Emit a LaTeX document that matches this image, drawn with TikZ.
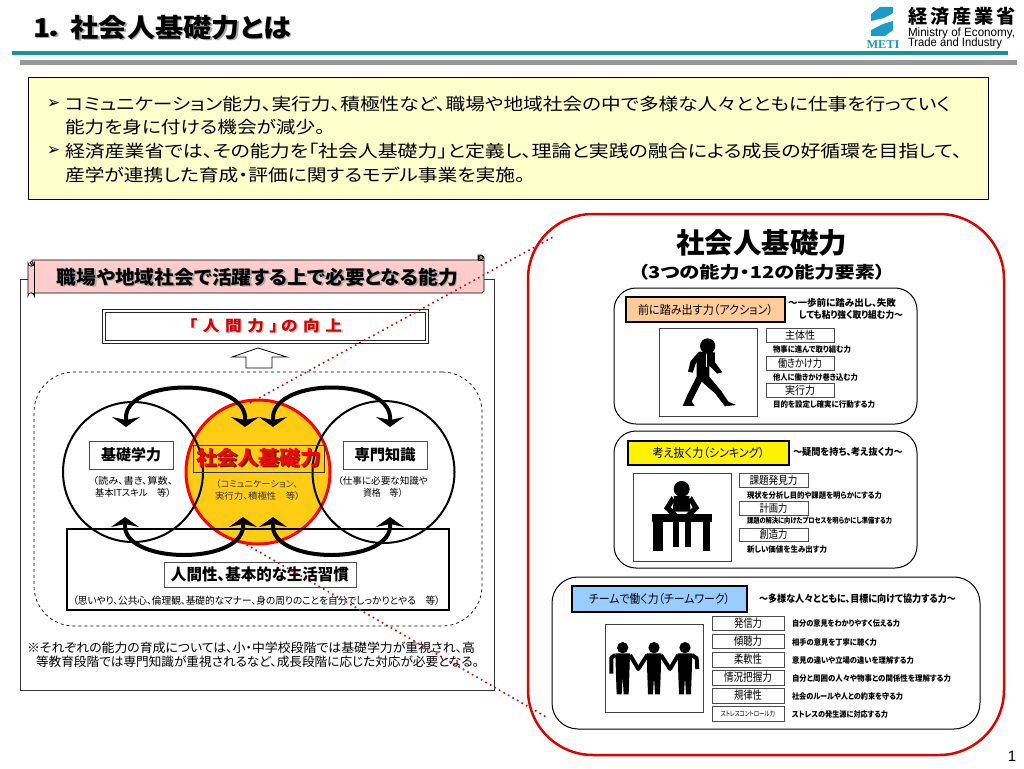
\documentclass[tikz,border=0pt]{standalone}
\usepackage{graphicx}
\usepackage{fontspec}
\usetikzlibrary{arrows.meta,shapes.geometric}
\setmainfont{Noto Sans CJK JP}[RawFeature={+palt}]
\newfontfamily\lat{Liberation Sans}
\newfontfamily\latserif{Liberation Serif}
\newfontfamily\dejavu{DejaVu Sans}
\newcommand\fw[3]{{\fontsize{#2}{#2}\selectfont\resizebox{#1pt}{\height}{#3}}}
\newcommand\shd[2][gray!70]{\leavevmode\rlap{\kern1.5pt\raisebox{-1.5pt}{\textcolor{#1}{#2}}}#2}
\newcommand\bx[7][]{\node[#7,minimum width={(#4-#2)*1pt},minimum height={(#5-#3)*1pt},#1] (#6) at ({(#2+#4)/2},{(#3+#5)/2}) {};}
\newcommand\bxt[8][]{\node[#7,minimum width={(#4-#2)*1pt},minimum height={(#5-#3)*1pt},#1] (#6) at ({(#2+#4)/2},{(#3+#5)/2}) {#8};}
\definecolor{teal1}{HTML}{0E9A8C}
\definecolor{pale}{HTML}{FFFFCC}
\definecolor{pinkb}{HTML}{FFCCCC}
\definecolor{orangec}{HTML}{FFCC14}
\definecolor{peach}{HTML}{FFCC99}
\definecolor{skyb}{HTML}{99CCFF}
\definecolor{logob}{HTML}{1C9AC8}
\tikzset{
 tx/.style={inner sep=0pt,outer sep=0pt,anchor=west},
 cx/.style={inner sep=0pt,outer sep=0pt,anchor=center},
 base/.style={inner sep=0pt,outer sep=0pt,anchor=center},
 lblbox/.style={base,draw=black!70,line width=0.8pt,fill=white},
 headbox/.style={base,draw=black,line width=2.6pt},
 card/.style={base,draw=black,line width=1pt,fill=white},
 frame/.style={base,draw=black!75,line width=0.8pt,fill=white},
 bigarrow/.style={line width=4pt,{Stealth[width=28pt,length=10pt,inset=3pt]}-{Stealth[width=28pt,length=10pt,inset=3pt]}},
 reddots/.style={draw=red!85!black,line width=1.6pt,dash pattern=on 1.6pt off 3.6pt},
}
\begin{document}
\begin{tikzpicture}[x=1pt,y=-1pt]
\useasboundingbox (0,0) rectangle (1024,768);
\fill[white] (0,0) rectangle (1024,768);
% header
\node[tx] (title) at (33,28) {\bfseries\fw{258}{26}{\shd{1．\hspace{6pt}社会人基礎力とは}}};
\fill[teal1] (12,51) rectangle (1008,55);
\fill[black!40] (20,59.5) rectangle (1017,64.5);
% logo
\fill[logob] (893,7) -- (893,13) -- (884,18) -- (871,21) -- (871,14) -- (880,7) -- cycle;
\fill[logob] (893,21) -- (893,30) -- (885,36) -- (871,36) -- (871,30) -- (883,24) -- cycle;
\node[cx] (metimark) at (883,45) {\latserif\bfseries\textcolor{logob}{\fw{33}{12}{METI}}};
\node[tx] (logojp) at (908,16) {\bfseries\fw{108}{19}{経\hspace{3pt}済\hspace{3pt}産\hspace{3pt}業\hspace{3pt}省}};
\node[tx] (logo1) at (908,33) {\lat\fw{107}{12}{Ministry of Economy,}};
\node[tx] (logo2) at (908,43) {\lat\fw{94}{12}{Trade and Industry}};
% summary
\bx{28}{77.5}{988}{199}{sumbox}{base,draw=black,line width=1pt,fill=pale}
\node[tx] (b1) at (47,104) {\dejavu\fw{13}{17}{➢}};
\node[tx] (s1) at (65,104) {\fw{885}{17}{コミュニケーション能力、実行力、積極性など、職場や地域社会の中で多様な人々とともに仕事を行っていく}};
\node[tx] (s2) at (65,127) {\fw{260}{17}{能力を身に付ける機会が減少。}};
\node[tx] (b2) at (47,151) {\dejavu\fw{13}{17}{➢}};
\node[tx] (s3) at (65,151) {\fw{897}{17}{経済産業省では、その能力を「社会人基礎力」と定義し、理論と実践の融合による成長の好循環を目指して、}};
\node[tx] (s4) at (65,175) {\fw{460}{17}{産学が連携した育成・評価に関するモデル事業を実施。}};
% left panel
\bx{20}{279}{494.5}{690}{leftpanel}{base,draw=black!80,line width=1pt,fill=white}
\path[draw=black,line width=0.8pt,fill=pinkb] (32,260) -- (478,260) -- (478,255) -- (481,255) -- (484,257) -- (484,291) -- (482,293) -- (32,293) -- cycle;
\path[draw=black,line width=0.8pt,fill=pinkb] (28,263) arc (180:0:3.2) -- (34.4,296) arc (0:-180:3.2) -- cycle;
\draw[black,line width=0.8pt] (478,256) -- (478,260) (484,260) -- (478,260);
\draw[black,line width=0.8pt,fill=pinkb!70!black] (481,257.5) circle (2.2);
\draw[black,line width=0.6pt,fill=pinkb!70!black] (31.5,263) circle (1.8);
\node[cx] (bannertext) at (257.5,278) {\bfseries\fw{401}{19}{\shd{職場や地域社会で活躍する上で必要となる能力}}};
\bxt{104}{311}{427}{342}{humanbox}{base,draw=black!85,line width=1pt,double,double distance=1.6pt,fill=white}{\bfseries\textcolor{red!85!black}{\fw{153}{15}{\shd[gray!45]{「\hspace{5pt}人\hspace{5pt}間\hspace{5pt}力\hspace{5pt}」\hspace{3pt}の\hspace{5pt}向\hspace{5pt}上}}}}
\draw[black,line width=0.8pt,fill=white] (258,348) -- (287,357) -- (272,357) -- (272,368) -- (246,368) -- (246,357) -- (232,357) -- cycle;
\bx{34}{372}{482}{626}{dashbox}{base,draw=black,line width=0.7pt,dashed,rounded corners=40pt}
% circles
\node[circle,draw=red,line width=3pt,fill=orangec,minimum size=144pt,inner sep=0pt] (ccenter) at (258,472) {};
\node[circle,draw=black,line width=2pt,minimum size=140pt,inner sep=0pt] (cleft) at (133,472) {};
\node[circle,draw=black,line width=2pt,minimum size=142pt,inner sep=0pt] (cright) at (383.5,472) {};
\bx{67}{529}{449}{610}{basebox}{base,draw=black,line width=2.5pt}
\bxt{89}{441}{173}{469}{kiso}{lblbox,fill=white}{\bfseries\fw{60}{15}{基礎学力}}
\bxt{193}{445}{324}{472}{shakai}{base,draw=black!80,line width=0.8pt}{\bfseries\textcolor{red}{\fw{125}{20}{\shd[black!80]{社会人基礎力}}}}
\bxt{343}{441}{427}{469}{senmon}{lblbox,fill=white}{\bfseries\fw{61}{15}{専門知識}}
\node[tx] (k1) at (93,481) {\fw{80}{9.5}{（読み、書き、算数、}};
\node[tx] (k2) at (95,493) {\fw{76}{9.5}{基本ITスキル　等）}};
\node[tx] (c1) at (216,484) {\textcolor{black!80}{\fw{82}{9}{（コミュニケーション、}}};
\node[tx] (c2) at (215,496) {\textcolor{black!80}{\fw{85}{9}{実行力、積極性　等）}}};
\node[tx] (r1) at (338,481) {\fw{90}{9.5}{（仕事に必要な知識や}};
\node[tx] (r2) at (363,493) {\fw{40}{9.5}{資格　等）}};
\bxt{164}{562}{356}{587}{ningen}{lblbox,fill=white}{\bfseries\fw{178}{16}{人間性、基本的な生活習慣}}
\node[tx] (n1) at (73,601) {\fw{367}{10}{（思いやり、公共心、倫理観、基礎的なマナー、身の周りのことを自分でしっかりとやる　等）}};
% arrows
\coordinate (ta) at (126,427); \coordinate (tb) at (245,427);
\coordinate (tc) at (273,427); \coordinate (td) at (390,427);
\coordinate (ba) at (125,517); \coordinate (bb) at (243,517);
\coordinate (bc) at (273,517); \coordinate (bd) at (390,517);
\coordinate (ta1) at (126,416); \coordinate (tb1) at (245,416);
\coordinate (tc1) at (273,416); \coordinate (td1) at (390,416);
\coordinate (ba1) at (125,528); \coordinate (bb1) at (243,528);
\coordinate (bc1) at (273,528); \coordinate (bd1) at (390,528);
\draw[bigarrow] (ta) -- (ta1) .. controls (130,378) and (240,378) .. (tb1) -- (tb);
\draw[bigarrow] (tc) -- (tc1) .. controls (278,378) and (385,378) .. (td1) -- (td);
\draw[bigarrow] (ba) -- (ba1) .. controls (130,564) and (238,564) .. (bb1) -- (bb);
\draw[bigarrow] (bc) -- (bc1) .. controls (278,564) and (385,564) .. (bd1) -- (bd);
% note
\node[tx] (note1) at (27,648) {\fw{448}{12.5}{※それぞれの能力の育成については、小・中学校段階では基礎学力が重視され、高}};
\node[tx] (note2) at (36,662) {\fw{443}{12.5}{等教育段階では専門知識が重視されるなど、成長段階に応じた対応が必要となる。}};
% right panel
\bx{528}{214}{1004}{755}{redpanel}{base,draw=red!90!black,line width=2.5pt,rounded corners=65pt,fill=white}
\coordinate (dot1) at (553,237);
\coordinate (dot2) at (548,718);
\coordinate (dot1s) at (250,403);
\coordinate (dot2s) at (242,542);
\draw[reddots] (dot1s) -- (dot1);
\draw[reddots] (dot2s) -- (dot2);
\node[cx] (bigtitle) at (761.5,243) {\bfseries\fw{171}{28}{社会人基礎力}};
\node[cx] (subtitle) at (761.5,272) {\bfseries\fw{247}{16.5}{（3つの能力・12の能力要素）}};
% card 1
\bx{614}{288}{917}{424}{card1}{card,rounded corners=22pt}
\bxt{626}{297}{785}{322}{head1}{headbox,fill=peach}{\fw{135}{12}{前に踏み出す力（アクション）}}
\node[tx] (sl1a) at (788,303) {\bfseries\fw{108}{9.5}{〜一歩前に踏み出し、失敗}};
\node[tx] (sl1b) at (799,315) {\bfseries\fw{104}{9.5}{しても粘り強く取り組む力〜}};
\bx{659}{328}{757}{416}{frame1}{frame}
\begin{scope}[shift={(600,285)},x=0.3333pt,y=-0.3333pt]
\fill[black] (323,183) circle [x radius=23,y radius=23];
\fill[black] (297,200) -- (345,202) -- (345,232) -- (367,262) -- (352,266) -- (328,242) -- (328,275) -- (365,320) -- (385,350) -- (408,360) -- (375,364) -- (345,325) -- (305,290) -- (275,350) -- (284,363) -- (248,363) -- (262,330) -- (290,275) -- (290,228) -- (278,263) -- (264,260) -- (272,228) -- cycle;
\draw[white,line width=0.6pt] (320,208) -- (320,245);
\end{scope}
\bxt{766}{328}{834}{342}{l11}{lblbox}{\fw{30}{11}{主体性}}
\bxt{766}{356}{834}{370}{l12}{lblbox}{\fw{44}{11}{働きかけ力}}
\bxt{766}{383}{834}{397}{l13}{lblbox}{\fw{30}{11}{実行力}}
\node[tx] (d11) at (773,349) {\bfseries\fw{78}{8}{物事に進んで取り組む力}};
\node[tx] (d12) at (773,377) {\bfseries\fw{85}{8}{他人に働きかけ巻き込む力}};
\node[tx] (d13) at (773,404) {\bfseries\fw{102}{8}{目的を設定し確実に行動する力}};
% card 2
\bx{614}{431}{917}{568}{card2}{card,rounded corners=22pt}
\bxt{628}{441}{789}{465}{head2}{headbox,fill=yellow}{\fw{112}{12}{考え抜く力（シンキング）}}
\node[tx] (sl2) at (793,452) {\bfseries\fw{110}{9.5}{〜疑問を持ち、考え抜く力〜}};
\bx{633}{473}{731}{561}{frame2}{frame}
\begin{scope}[shift={(600,430)},x=0.3333pt,y=-0.3333pt]
\fill[black] (245,177) circle [x radius=24,y radius=24];
\fill[black] (222,198) -- (268,198) -- (272,245) -- (218,245) -- cycle;
\fill[black] (215,198) -- (192,235) -- (220,262) -- (232,252) -- (212,232) -- (224,212) -- cycle;
\fill[black] (275,198) -- (298,235) -- (270,262) -- (258,252) -- (278,232) -- (266,212) -- cycle;
\fill[black] (155,252) -- (335,252) -- (335,275) -- (155,275) -- cycle;
\fill[black] (160,275) rectangle (189,362);
\fill[black] (220,275) rectangle (238,350);
\fill[black] (255,275) rectangle (273,350);
\fill[black] (310,275) rectangle (330,362);
\end{scope}
\bxt{739}{473}{808}{487}{l21}{lblbox}{\fw{48}{11}{課題発見力}}
\bxt{739}{501}{808}{515}{l22}{lblbox}{\fw{28}{11}{計画力}}
\bxt{739}{528}{808}{541}{l23}{lblbox}{\fw{28}{11}{創造力}}
\node[tx] (d21) at (747,495) {\bfseries\fw{135}{8}{現状を分析し目的や課題を明らかにする力}};
\node[tx] (d22) at (747,521) {\bfseries\fw{145}{7.5}{課題の解決に向けたプロセスを明らかにし準備する力}};
\node[tx] (d23) at (747,549) {\bfseries\fw{80}{8}{新しい価値を生み出す力}};
% card 3
\bx{552}{577}{980}{729}{card3}{card,rounded corners=26pt}
\bxt{572}{586}{747}{612}{head3}{headbox,fill=skyb}{\fw{141}{12}{チームで働く力（チームワーク）}}
\node[tx] (sl3) at (759,599) {\bfseries\fw{197}{10}{〜多様な人々とともに、目標に向けて協力する力〜}};
\bx{605}{624}{703}{712}{frame3}{frame}
\begin{scope}[shift={(550,575)},x=0.3333pt,y=-0.3333pt]
\foreach \p in {0,94,187}{
 \fill[black] ({218+\p},218) circle [x radius=17,y radius=17];
 \fill[black] ({196+\p},235) -- ({240+\p},235) -- ({238+\p},300) -- ({236+\p},358) -- ({221+\p},358) -- ({218+\p},305) -- ({215+\p},358) -- ({200+\p},358) -- ({198+\p},300) -- cycle;
}
\draw[black,line width=4pt,line join=round] (196,240) -- (184,248) -- (184,296);
\draw[black,line width=4pt,line join=round] (240,240) -- (265,282) -- (292,240);
\draw[black,line width=4pt,line join=round] (333,240) -- (360,282) -- (385,240);
\draw[black,line width=4pt,line join=round] (426,240) -- (440,250) -- (442,282);
\end{scope}
\bxt{712}{616}{784}{630}{l31}{lblbox}{\fw{28}{11.5}{発信力}}
\bxt{712}{634}{784}{648}{l32}{lblbox}{\fw{28}{11.5}{傾聴力}}
\bxt{712}{652}{784}{667}{l33}{lblbox}{\fw{28}{11.5}{柔軟性}}
\bxt{712}{670}{784}{685}{l34}{lblbox}{\fw{48}{11.5}{情況把握力}}
\bxt{712}{688}{784}{703}{l35}{lblbox}{\fw{28}{11.5}{規律性}}
\bxt{712}{706}{784}{721}{l36}{lblbox}{\fw{54}{7}{ストレスコントロール力}}
\node[tx] (d31) at (792,623) {\bfseries\fw{108}{8}{自分の意見をわかりやすく伝える力}};
\node[tx] (d32) at (792,642) {\bfseries\fw{85}{8}{相手の意見を丁寧に聴く力}};
\node[tx] (d33) at (792,660) {\bfseries\fw{122}{8}{意見の違いや立場の違いを理解する力}};
\node[tx] (d34) at (792,678) {\bfseries\fw{159}{8}{自分と周囲の人々や物事との関係性を理解する力}};
\node[tx] (d35) at (792,696) {\bfseries\fw{111}{8}{社会のルールや人との約束を守る力}};
\node[tx] (d36) at (792,714) {\bfseries\fw{96}{8}{ストレスの発生源に対応する力}};
\node[cx] (pageno) at (1012,756) {\lat\fontsize{15}{15}\selectfont 1};
\end{tikzpicture}
\end{document}
